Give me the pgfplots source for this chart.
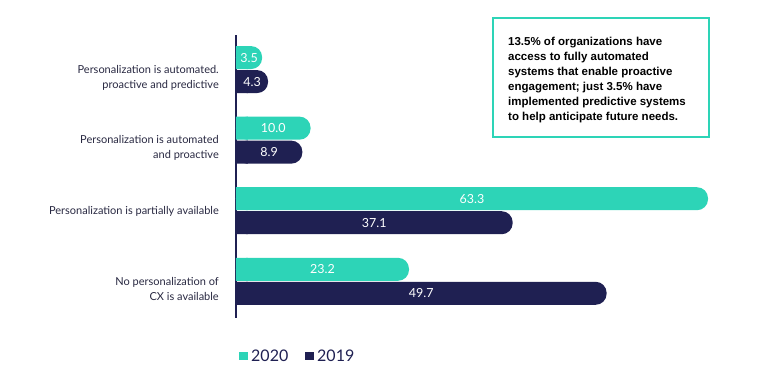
\documentclass[border=0pt]{standalone}
\usepackage{pgfplots}
\pgfplotsset{compat=1.18}
\usepackage{pgfplotstable}
\usepackage{fontspec}
\setmainfont{Lato}
\newfontfamily\boxfont{Liberation Sans}
\definecolor{teal20}{RGB}{45,212,183}
\definecolor{navy19}{RGB}{31,32,82}
\definecolor{labgray}{RGB}{40,40,65}
\pgfplotstableread{
y v20 v19
3 3.5 4.3
2 10.0 8.9
1 63.3 37.1
0 23.2 49.7
}\data
\begin{document}
\begin{tikzpicture}
\useasboundingbox (0,0) rectangle (772pt,-382pt);
\begin{axis}[
  at={(236pt,-318pt)}, anchor=south west,
  scale only axis, width=522pt, height=283pt,
  xmin=0, xmax=70, ymin=-0.52, ymax=3.49,
  axis x line=none, axis y line*=left,
  y axis line style={draw=navy19, line width=1.6pt},
  xtick=\empty,
  ytick={0,1,2,3},
  yticklabels={{No personalization of\\CX is available},{Personalization is partially available},{Personalization is automated\\and proactive},{Personalization is automated.\\proactive and predictive}},
  major tick length=0pt,
  yticklabel style={font=\fontsize{11}{15}\selectfont, text=labgray, align=right, anchor=north east, inner sep=0pt, yshift=4.5pt, xshift=-17pt},
  clip=false,
]
\addplot[xbar, fill=teal20, draw=none, bar width=23pt, bar shift=12pt, rounded corners=11pt] table[x=v20, y=y]{\data};
\addplot[xbar, fill=teal20, draw=none, bar width=23pt, bar shift=12pt, forget plot] table[x expr={min(\thisrow{v20},1.6)}, y=y]{\data};
\addplot[xbar, fill=navy19, draw=none, bar width=23pt, bar shift=-12pt, rounded corners=11pt] table[x=v19, y=y]{\data};
\addplot[xbar, fill=navy19, draw=none, bar width=23pt, bar shift=-12pt, forget plot] table[x expr={min(\thisrow{v19},1.6)}, y=y]{\data};
\addplot[draw=none, forget plot, nodes near coords, point meta=explicit symbolic, nodes near coords align=center,
  every node near coord/.append style={text=white, font=\fontsize{12.5}{12.5}\selectfont, yshift=12pt, inner sep=0pt}]
  table[x expr=\thisrow{v20}/2, y=y, meta=v20]{\data};
\addplot[draw=none, forget plot, nodes near coords, point meta=explicit symbolic, nodes near coords align=center,
  every node near coord/.append style={text=white, font=\fontsize{12.5}{12.5}\selectfont, yshift=-12pt, inner sep=0pt}]
  table[x expr=\thisrow{v19}/2, y=y, meta=v19]{\data};
\end{axis}
\draw[teal20, line width=1.6pt] (493pt,-18pt) rectangle (709pt,-137pt);
\node[anchor=north west, align=left, inner sep=0pt, text=black, font=\boxfont\bfseries\fontsize{11.5}{15}\selectfont] at (508pt,-36.5pt)
  {13.5\% of organizations have\\access to fully automated\\systems that enable proactive\\engagement; just 3.5\% have\\implemented predictive systems\\to help anticipate future needs.};
\fill[teal20] (239pt,-352pt) rectangle (248pt,-360pt);
\node[anchor=west, inner sep=0pt, text=navy19, font=\fontsize{16}{16}\selectfont] at (251pt,-356pt) {2020};
\fill[navy19] (305pt,-352pt) rectangle (314pt,-360pt);
\node[anchor=west, inner sep=0pt, text=navy19, font=\fontsize{16}{16}\selectfont] at (317pt,-356pt) {2019};
\end{tikzpicture}
\end{document}
